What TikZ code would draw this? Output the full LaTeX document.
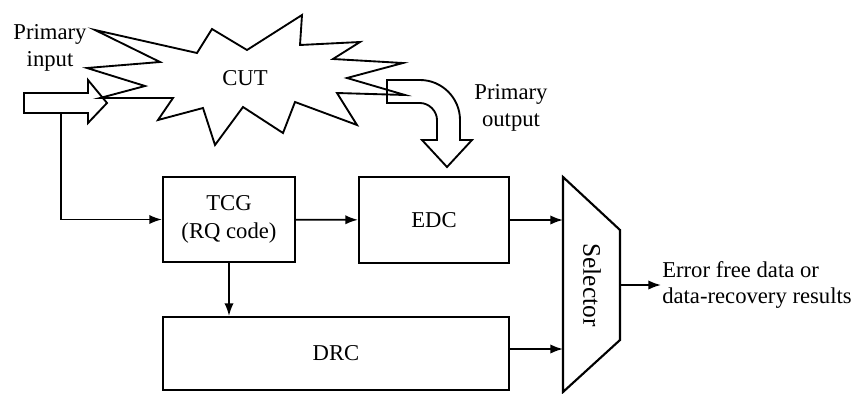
\documentclass[tikz,border=0pt]{standalone}
\usepackage{fontspec}
\setmainfont{Liberation Serif}
\usetikzlibrary{arrows,arrows.meta}

\begin{document}
\begin{tikzpicture}[x=0.75pt,y=0.75pt,yscale=-1,xscale=1,
  blk/.style={draw,line width=1.6pt,inner sep=0.75pt,align=center,font=\fontsize{17}{21}\selectfont},
  lbl/.style={inner sep=0.75pt,align=center,font=\fontsize{17}{20}\selectfont},
  wire/.style={line width=1.3pt,-{Latex[length=9.5pt,width=7pt]}}]
\path (0,0) rectangle (860,392);

%Shape: Fat Arrow [id:primary input]
\draw [line width=1.4pt] (24,93) -- (88,93) -- (88,80) -- (107,103) -- (88,123) -- (88,113) -- (24,113) -- cycle ;
%Shape: Star [id:cut]
\draw [line width=1.4pt] (95,30) -- (197,53) -- (212,29) -- (247,50) -- (302,15) -- (300,45) -- (360,42) -- (333,59) -- (403,63) -- (347,78) -- (405,95) -- (337,93) -- (357,125) -- (295,102) -- (283,133) -- (243,107) -- (215,145) -- (203,108) -- (158,120) -- (173,98) -- (100,98) -- (145,86) -- (87,68) -- (160,62) -- cycle ;
%Shape: Bent Arrow [id:primary output]
\draw [line width=1.4pt] (387,80) -- (420,80) .. controls (442,80) and (460,98) .. (460,120) -- (460,140) -- (472,140) -- (447,167) -- (422,140) -- (437,140) -- (437,120) .. controls (437,111) and (429,103) .. (420,103) -- (387,103) -- cycle ;
%Shape: Trapezoid [id:selector]
\draw [line width=1.6pt] (563,177) -- (620,230) -- (620,340) -- (563,392) -- cycle ;

% Text Node
\node (pin) [lbl] at (50,48) {Primary\\input};
% Text Node
\node (cut) [lbl] at (245,78) {CUT};
% Text Node
\node (pout) [lbl] at (511,108) {Primary\\output};
% Blocks
\node (tcg) [blk,minimum width=99pt,minimum height=63.75pt] at (229,219.5) {TCG\\(RQ code)};
\node (edc) [blk,minimum width=112.5pt,minimum height=64.5pt] at (434,220) {EDC};
\node (drc) [blk,minimum width=259.5pt,minimum height=54.75pt] at (336,353.5) {DRC};
% Text Node
\node (sel) [lbl,rotate=-90,font=\fontsize{19}{20}\selectfont] at (592,285) {Selector};
% Text Node
\node (res) [lbl,anchor=west,align=left] at (661,285) {Error free data or\\data-recovery results};

\coordinate (inTap) at (61,113);
\coordinate (selL) at (563,0);
\coordinate (selR) at (620,285);
\coordinate (drcOut) at (509,349);

%Straight Lines
\draw [wire] (inTap) |- (tcg);
\draw [wire] (tcg) -- (edc);
\draw [wire] (tcg.south) -- (tcg.south |- drc.north);
\draw [wire] (edc) -- (edc -| selL);
\draw [wire] (drcOut) -- (drcOut -| selL);
\draw [wire] (selR) -- (res.west);

\end{tikzpicture}
\end{document}
